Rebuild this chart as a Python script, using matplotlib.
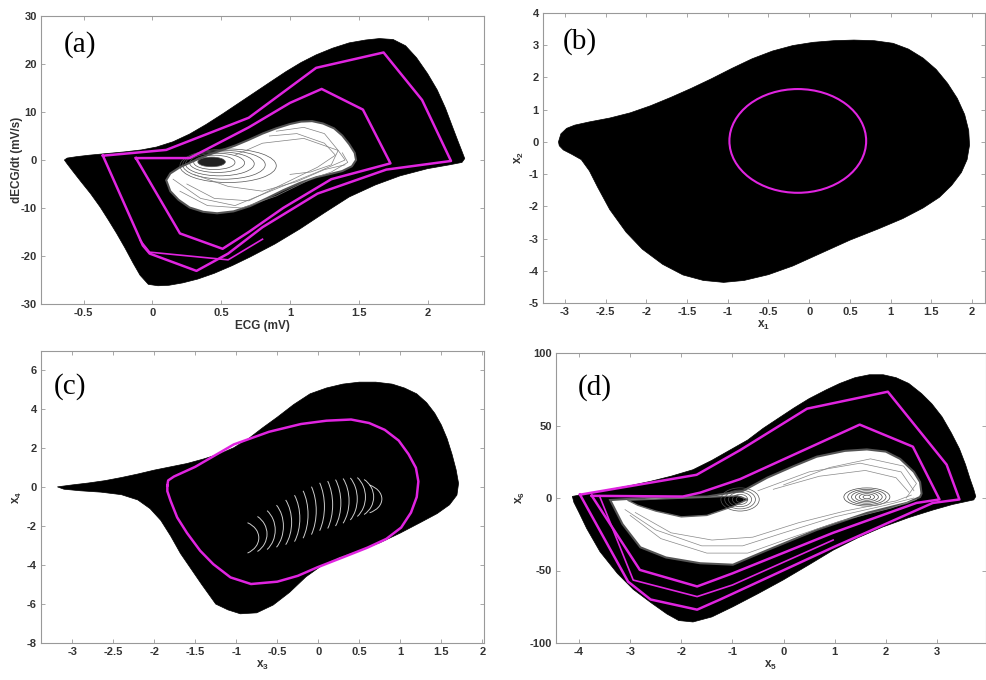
import matplotlib
matplotlib.use("Agg")
import matplotlib.pyplot as plt
from matplotlib.patches import Ellipse, Arc
from matplotlib.ticker import FuncFormatter

plt.rcParams['font.family'] = ['Liberation Sans', 'DejaVu Sans']
plt.rcParams['mathtext.default'] = 'regular'

MAGENTA = '#e024e0'

# ---------------- panel (a): ECG phase portrait ----------------
a_outer_x = [-0.64, -0.62, -0.55, -0.46, -0.33, -0.2, -0.08, 0.03, 0.15, 0.27, 0.39, 0.51, 0.63, 0.75, 0.87, 0.97,
             1.08, 1.19, 1.31, 1.43, 1.55, 1.65, 1.75, 1.84, 1.92, 2.0, 2.07, 2.13, 2.18, 2.22, 2.25, 2.27,
             2.25, 2.16, 2.0, 1.8, 1.62, 1.43, 1.25, 1.07, 0.89, 0.71, 0.58, 0.45, 0.33, 0.22, 0.12, 0.04,
             -0.03, -0.09, -0.14, -0.2, -0.26, -0.32, -0.38, -0.45, -0.52, -0.58, -0.62]
a_outer_y = [0.0, 0.4, 0.7, 1.0, 1.35, 1.7, 2.1, 2.7, 3.8, 5.4, 7.4, 9.6, 11.9, 14.2, 16.5, 18.4,
             20.3, 21.9, 23.3, 24.4, 25.0, 25.3, 25.1, 23.8, 21.3, 18.0, 14.6, 10.8, 7.0, 4.0, 1.8, 0.3,
             -0.5, -1.0, -1.8, -3.3, -5.2, -7.7, -11.0, -14.4, -17.5, -20.2, -22.0, -23.6, -24.8, -25.6, -26.1, -26.2,
             -25.9, -24.0, -21.5, -18.3, -15.3, -12.5, -9.8, -7.0, -4.5, -2.3, -0.8]
a_hole_x = [0.10, 0.13, 0.2, 0.3, 0.4, 0.5, 0.6, 0.7, 0.8, 0.9, 1.0, 1.08, 1.16, 1.24, 1.32, 1.38, 1.43, 1.47,
            1.48, 1.45, 1.38, 1.28, 1.19, 1.07, 0.95, 0.83, 0.71, 0.59, 0.47, 0.37, 0.27, 0.19, 0.13]
a_hole_y = [-4.2, -2.8, -1.5, -0.2, 1.0, 2.0, 3.0, 4.2, 5.5, 6.6, 7.5, 8.0, 8.1, 7.6, 6.6, 5.1, 3.3, 1.5,
            0.0, -1.3, -2.3, -3.0, -3.6, -4.8, -6.3, -8.0, -9.6, -10.7, -11.1, -10.8, -9.9, -8.3, -6.5]
a_mag1_x = [-0.36, 0.1, 0.7, 1.19, 1.68, 1.96, 2.17, 1.7, 1.2, 0.8, 0.55, 0.32, -0.02, -0.07, -0.36]
a_mag1_y = [0.9, 2.1, 8.8, 19.2, 22.4, 12.5, -0.2, -2.0, -7.0, -14.0, -19.5, -23.1, -19.5, -17.8, 0.9]
a_mag2_x = [-0.12, 0.27, 0.7, 1.0, 1.23, 1.53, 1.73, 1.3, 0.95, 0.7, 0.51, 0.2, -0.12]
a_mag2_y = [0.4, 0.4, 6.8, 11.9, 14.8, 10.5, -0.7, -4.0, -10.0, -15.0, -18.5, -15.3, 0.4]
a_mag3_x = [-0.09, -0.02, 0.55, 0.8]
a_mag3_y = [-16.7, -19.2, -20.8, -16.5]
# spiral "eye" loops: centre, width, height
a_eye_cx = [0.42, 0.43, 0.45, 0.47, 0.49, 0.52, 0.55]
a_eye_cy = [-0.3, -0.4, -0.5, -0.6, -0.8, -1.0, -1.2]
a_eye_w = [0.12, 0.2, 0.3, 0.4, 0.5, 0.6, 0.7]
a_eye_h = [1.2, 2.0, 3.0, 4.0, 5.0, 6.0, 7.0]
a_loops_x = [[0.15, 0.35, 0.6, 0.9, 1.2, 1.4, 1.35, 1.1, 0.8, 0.6],
             [0.25, 0.45, 0.7, 0.95, 1.2, 1.33, 1.25, 1.05, 0.85],
             [0.2, 0.4, 0.65, 0.9, 1.15, 1.3, 1.42, 1.38],
             [0.9, 1.1, 1.25, 1.35, 1.3, 1.15, 1.0],
             [0.3, 0.55, 0.8, 1.05, 1.25, 1.4]]
a_loops_y = [[-4.0, -8.0, -9.5, -6.0, -2.5, 0.0, 2.0, 4.5, 3.5, 1.0],
             [-5.0, -8.0, -8.5, -5.0, -1.5, 1.0, 3.5, 5.5, 5.0],
             [-6.5, -9.5, -10.0, -7.5, -4.0, -2.5, -0.5, 1.5],
             [6.0, 6.8, 5.5, 2.0, -1.0, -2.5, -3.0],
             [-3.0, -5.5, -6.5, -4.5, -2.0, -1.0]]

# ---------------- panel (b) ----------------
b_outer_x = [-3.08, -3.05, -2.98, -2.88, -2.7, -2.45, -2.2, -1.95, -1.7, -1.45, -1.2, -0.95, -0.7, -0.45, -0.2,
             0.05, 0.3, 0.55, 0.8, 1.03, 1.22, 1.4, 1.56, 1.7, 1.82, 1.91, 1.96, 1.97, 1.94, 1.87, 1.75, 1.6,
             1.4, 1.15, 0.85, 0.5, 0.15, -0.2, -0.5, -0.8, -1.05, -1.3, -1.55, -1.8, -2.05, -2.25, -2.45, -2.6,
             -2.7, -2.8, -2.92, -3.02, -3.07]
b_outer_y = [0.0, 0.25, 0.42, 0.52, 0.62, 0.74, 0.9, 1.12, 1.38, 1.66, 1.96, 2.28, 2.58, 2.82, 2.99,
             3.09, 3.14, 3.16, 3.14, 3.06, 2.88, 2.6, 2.25, 1.82, 1.35, 0.85, 0.35, -0.1, -0.55, -0.95, -1.35, -1.72,
             -2.05, -2.38, -2.7, -3.05, -3.45, -3.85, -4.12, -4.3, -4.36, -4.3, -4.13, -3.8, -3.33, -2.8, -2.1, -1.4,
             -0.9, -0.55, -0.38, -0.25, -0.12]
b_ell_center = (-0.14, 0.03)
b_ell_width = 1.68
b_ell_height = 3.22

# ---------------- panel (c) ----------------
c_outer_x = [-3.18, -3.0, -2.8, -2.6, -2.4, -2.2, -2.0, -1.8, -1.6, -1.4, -1.2, -1.03, -0.85, -0.68, -0.5, -0.3,
             -0.1, 0.1, 0.3, 0.5, 0.7, 0.9, 1.05, 1.2, 1.32, 1.42, 1.5, 1.57, 1.63, 1.68, 1.71, 1.69, 1.6,
             1.45, 1.25, 1.0, 0.75, 0.5, 0.25, 0.05, -0.15, -0.35, -0.55, -0.75, -0.95, -1.1, -1.25, -1.42,
             -1.55, -1.68, -1.8, -1.92, -2.05, -2.2, -2.4, -2.65, -2.9, -3.1]
c_outer_y = [0.02, 0.12, 0.22, 0.34, 0.5, 0.68, 0.88, 1.05, 1.22, 1.45, 1.72, 2.03, 2.5, 3.05, 3.6, 4.25,
             4.8, 5.1, 5.3, 5.4, 5.4, 5.3, 5.1, 4.8, 4.35, 3.8, 3.2, 2.5, 1.7, 0.9, 0.2, -0.4, -0.9,
             -1.35, -1.8, -2.35, -2.85, -3.25, -3.6, -4.0, -4.6, -5.4, -6.05, -6.45, -6.5, -6.3, -6.0, -5.0,
             -4.2, -3.4, -2.5, -1.7, -1.1, -0.65, -0.38, -0.25, -0.18, -0.1]
c_mag_x = [-1.84, -1.83, -1.76, -1.5, -1.03, -0.6, -0.21, 0.1, 0.4, 0.62, 0.81, 0.98, 1.1, 1.19, 1.22, 1.2,
           1.13, 1.01, 0.83, 0.6, 0.3, -0.01, -0.25, -0.5, -0.82, -1.07, -1.28, -1.44, -1.6, -1.72, -1.8,
           -1.84, -1.84]
c_mag_y = [0.1, 0.35, 0.55, 1.05, 2.2, 2.85, 3.25, 3.42, 3.48, 3.3, 2.95, 2.4, 1.7, 1.0, 0.3, -0.5,
           -1.3, -2.07, -2.65, -3.1, -3.6, -4.11, -4.55, -4.85, -4.97, -4.63, -3.95, -3.26, -2.35, -1.55, -0.7,
           -0.2, 0.1]
# white fingerprint-like arcs inside the attractor
c_arc_cx = [-1.0, -0.9, -0.8, -0.7, -0.6, -0.5, -0.4, -0.3, -0.2, -0.1, 0.0, 0.1, 0.2, 0.3, 0.4, 0.5]
c_arc_cy = [-2.6, -2.4, -2.2, -2.0, -1.8, -1.6, -1.4, -1.2, -1.0, -0.9, -0.8, -0.7, -0.6, -0.5, -0.5, -0.6]
c_arc_h = [1.8, 2.2, 2.6, 3.0, 3.4, 3.7, 3.9, 4.0, 4.0, 3.9, 3.7, 3.4, 3.0, 2.6, 2.2, 1.6]

# ---------------- panel (d) ----------------
d_outer_x = [-4.13, -3.9, -3.6, -3.3, -3.0, -2.6, -2.2, -1.77, -1.4, -1.0, -0.7, -0.4, -0.1, 0.2, 0.5, 0.83,
             1.1, 1.4, 1.68, 1.95, 2.2, 2.45, 2.7, 2.9, 3.1, 3.28, 3.44, 3.56, 3.65, 3.72, 3.76,
             3.72, 3.3, 2.92, 2.45, 1.94, 1.45, 0.97, 0.5, -0.01, -0.5, -0.99, -1.4, -1.77, -2.05, -2.28,
             -2.6, -2.94, -3.25, -3.59, -3.85, -4.0, -4.1]
d_outer_y = [1.1, 2.6, 4.5, 6.5, 8.5, 11.5, 15.0, 19.5, 26.0, 34.0, 40.0, 48.0, 55.0, 62.0, 68.5, 74.5,
             79.0, 83.0, 85.0, 85.0, 83.0, 79.0, 72.0, 65.0, 56.0, 45.0, 34.0, 23.0, 13.0, 6.0, 1.0,
             -1.3, -4.5, -8.3, -13.5, -20.0, -27.5, -36.0, -46.0, -56.6, -66.0, -75.0, -82.0, -85.5, -84.5, -80.0,
             -72.0, -63.0, -52.0, -37.0, -21.0, -10.0, -3.0]
d_hole_x = [-3.39, -2.5, -1.5, -0.79, -0.32, 0.2, 0.65, 1.2, 1.63, 2.0, 2.28, 2.55, 2.67, 2.7, 2.67, 2.41, 1.63,
            0.65, -0.32, -0.99, -1.63, -2.3, -2.8, -3.15]
d_hole_y = [-1.4, 0.5, 1.0, 5.0, 14.0, 22.0, 28.5, 32.5, 33.5, 32.0, 27.0, 18.0, 11.0, 3.0, 0.7, -3.4, -10.3,
            -22.0, -36.0, -46.0, -45.0, -41.0, -34.0, -18.0]
d_eye_x = [-3.05, -2.3, -1.5, -0.9, -0.7, -1.0, -1.5, -2.0, -2.5, -2.85]
d_eye_y = [-1.5, -0.5, 0.5, 1.5, -1.0, -6.0, -12.0, -13.0, -9.0, -5.0]
d_mag1_x = [-3.98, -1.7, -0.85, 0.46, 2.04, 3.19, 3.44, 2.92, 0.97, -1.24, -1.69, -2.6, -3.04, -3.98]
d_mag1_y = [2.3, 16.0, 33.0, 61.6, 73.3, 23.0, -1.0, -3.4, -34.0, -70.0, -77.0, -70.0, -57.7, 2.3]
d_mag2_x = [-3.75, -1.97, -1.63, -0.85, 1.49, 2.53, 3.05, 2.6, 0.97, -1.0, -1.69, -2.81, -3.75]
d_mag2_y = [1.5, 1.0, 3.7, 13.0, 50.6, 35.4, -1.0, -3.4, -24.0, -52.0, -61.0, -49.6, 1.5]
d_mag3_x = [-3.6, -2.94, -1.69, -1.0, 0.97]
d_mag3_y = [1.5, -56.6, -68.0, -60.0, -29.0]
d_eye1_cx, d_eye1_cy = -0.85, -1.0
d_eye1_w = [0.15, 0.3, 0.45, 0.6, 0.75]
d_eye1_h = [4.0, 7.0, 10.0, 13.0, 16.0]
d_eye2_cx, d_eye2_cy = 1.63, 0.7
d_eye2_w = [0.15, 0.3, 0.45, 0.6, 0.75, 0.9]
d_eye2_h = [2.5, 4.5, 6.5, 8.5, 10.5, 12.5]
d_loops_x = [[-3.1, -2.5, -1.6, -0.8, 0.0, 1.0, 2.0, 2.55],
             [-2.9, -2.2, -1.4, -0.6, 0.3, 1.2, 2.2, 2.5],
             [-3.0, -2.4, -1.5, -0.7, 0.1, 1.1, 2.1, 2.6],
             [-0.5, 0.5, 1.5, 2.3, 2.55],
             [-0.2, 0.7, 1.6, 2.2, 2.45],
             [0.0, 0.9, 1.7, 2.35, 2.6, 2.4]]
d_loops_y = [[-8.0, -22.0, -33.0, -33.0, -24.0, -13.0, -5.0, 0.0],
             [-10.0, -24.0, -29.0, -27.0, -17.0, -9.0, -2.0, 2.0],
             [-12.0, -28.0, -38.0, -38.0, -28.0, -16.0, -7.0, -1.0],
             [5.0, 18.0, 24.0, 18.0, 5.0],
             [6.0, 15.0, 19.0, 14.0, 4.0],
             [9.0, 21.0, 27.0, 22.0, 10.0, 0.0]]


def style_axes(ax, xlim, ylim, xticks, yticks):
    ax.set_xlim(xlim)
    ax.set_ylim(ylim)
    ax.set_xticks(xticks)
    ax.set_yticks(yticks)
    fmt = FuncFormatter(lambda v, p: '%g' % v)
    ax.xaxis.set_major_formatter(fmt)
    ax.yaxis.set_major_formatter(fmt)
    ax.tick_params(direction='in', top=True, right=True, length=3, width=0.6,
                   color='#999999', labelsize=8, labelcolor='#333333', pad=3)
    for lab in ax.get_xticklabels() + ax.get_yticklabels():
        lab.set_fontweight('bold')
    for s in ax.spines.values():
        s.set_color('#999999')
        s.set_linewidth(0.8)


def panel_label(ax, txt, x, y):
    ax.text(x, y, txt, transform=ax.transAxes, fontsize=21, family='Liberation Serif',
            ha='left', va='center')


lab_kw = dict(fontsize=8.5, fontweight='bold', color='#333333')

fig = plt.figure(figsize=(9.86, 6.8), dpi=100)
ax_a = fig.add_axes([41 / 986, 1 - 304 / 680, 443 / 986, 288 / 680])
ax_b = fig.add_axes([543 / 986, 1 - 303 / 680, 442 / 986, 290 / 680])
ax_c = fig.add_axes([41 / 986, 1 - 643 / 680, 443 / 986, 292 / 680])
ax_d = fig.add_axes([556 / 986, 1 - 643 / 680, 430 / 986, 290 / 680])

# (a)
ax = ax_a
ax.fill(a_outer_x, a_outer_y, color='black', lw=0.5, zorder=1)
ax.fill(a_hole_x, a_hole_y, facecolor='white', edgecolor='#555555', lw=1.5, zorder=2)
for i, (cx, cy, w, h) in enumerate(zip(a_eye_cx, a_eye_cy, a_eye_w, a_eye_h)):
    ax.add_patch(Ellipse((cx, cy), w, h, fill=(i < 2), fc='#222222', ec='#555555', lw=0.5, zorder=3))
for lx, ly in zip(a_loops_x, a_loops_y):
    ax.plot(lx, ly, color='#808080', lw=0.5, zorder=3)
ax.plot(a_mag1_x, a_mag1_y, color=MAGENTA, lw=1.8, zorder=4)
ax.plot(a_mag2_x, a_mag2_y, color=MAGENTA, lw=1.8, zorder=4)
ax.plot(a_mag3_x, a_mag3_y, color=MAGENTA, lw=1.2, zorder=4)
style_axes(ax, (-0.81, 2.41), (-30, 30), [-0.5, 0, 0.5, 1, 1.5, 2], range(-30, 31, 10))
ax.set_xlabel('ECG (mV)', labelpad=1, **lab_kw)
ax.set_ylabel('dECG/dt (mV/s)', labelpad=-2, **lab_kw)
panel_label(ax, '(a)', 0.052, 0.9)

# (b)
ax = ax_b
ax.fill(b_outer_x, b_outer_y, color='black', lw=0.5, zorder=1)
ax.add_patch(Ellipse(b_ell_center, b_ell_width, b_ell_height, fill=False, ec=MAGENTA, lw=1.5, zorder=4))
style_axes(ax, (-3.27, 2.16), (-5, 4), [-3, -2.5, -2, -1.5, -1, -0.5, 0, 0.5, 1, 1.5, 2], range(-5, 5))
ax.set_xlabel('x$_1$', labelpad=1, **lab_kw)
ax.set_ylabel('x$_2$', labelpad=2, **lab_kw)
panel_label(ax, '(b)', 0.045, 0.9)

# (c)
ax = ax_c
ax.fill(c_outer_x, c_outer_y, color='black', lw=0.5, zorder=1)
for cx, cy, h in zip(c_arc_cx, c_arc_cy, c_arc_h):
    ax.add_patch(Arc((cx, cy), 0.55, h, theta1=-80, theta2=80, color='white', lw=0.7, alpha=0.8, zorder=2))
ax.plot(c_mag_x, c_mag_y, color=MAGENTA, lw=1.8, zorder=4)
style_axes(ax, (-3.38, 2.02), (-8, 7), [-3, -2.5, -2, -1.5, -1, -0.5, 0, 0.5, 1, 1.5, 2], range(-8, 7, 2))
ax.set_xlabel('x$_3$', labelpad=1, **lab_kw)
ax.set_ylabel('x$_4$', labelpad=2, **lab_kw)
panel_label(ax, '(c)', 0.028, 0.88)

# (d)
ax = ax_d
ax.fill(d_outer_x, d_outer_y, color='black', lw=0.5, zorder=1)
ax.fill(d_hole_x, d_hole_y, facecolor='white', edgecolor='#555555', lw=1.5, zorder=2)
ax.fill(d_eye_x, d_eye_y, facecolor='black', edgecolor='#666666', lw=1.0, zorder=2.5)
for w, h in zip(d_eye1_w, d_eye1_h):
    ax.add_patch(Ellipse((d_eye1_cx, d_eye1_cy), w, h, fill=False, ec='#555555', lw=0.5, zorder=3))
for w, h in zip(d_eye2_w, d_eye2_h):
    ax.add_patch(Ellipse((d_eye2_cx, d_eye2_cy), w, h, fill=False, ec='#444444', lw=0.5, zorder=3))
for lx, ly in zip(d_loops_x, d_loops_y):
    ax.plot(lx, ly, color='#888888', lw=0.5, zorder=3)
ax.plot(d_mag1_x, d_mag1_y, color=MAGENTA, lw=1.8, zorder=4)
ax.plot(d_mag2_x, d_mag2_y, color=MAGENTA, lw=1.8, zorder=4)
ax.plot(d_mag3_x, d_mag3_y, color=MAGENTA, lw=1.2, zorder=4)
style_axes(ax, (-4.45, 3.96), (-100, 100), range(-4, 4), [-100, -50, 0, 50, 100])
ax.set_xlabel('x$_5$', labelpad=1, **lab_kw)
ax.set_ylabel('x$_6$', labelpad=2, **lab_kw)
panel_label(ax, '(d)', 0.05, 0.88)

fig.savefig('out.png', dpi=100)
